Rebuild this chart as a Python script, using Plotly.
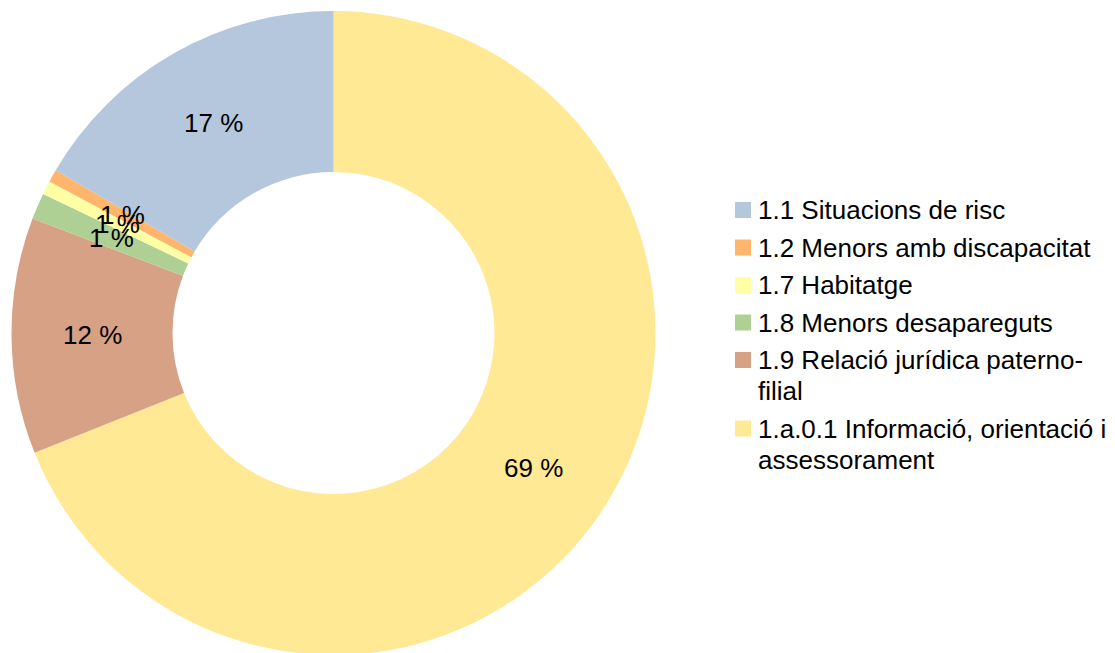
import math
import plotly.graph_objects as go

# ---- data ----
categories = [
    "1.1 Situacions de risc",
    "1.2 Menors amb discapacitat",
    "1.7 Habitatge",
    "1.8 Menors desapareguts",
    "1.9 Relació jurídica paterno-filial",
    "1.a.0.1 Informació, orientació i assessorament",
]
legend_lines = [
    ["1.1 Situacions de risc"],
    ["1.2 Menors amb discapacitat"],
    ["1.7 Habitatge"],
    ["1.8 Menors desapareguts"],
    ["1.9 Relació jurídica paterno-", "filial"],
    ["1.a.0.1 Informació, orientació i", "assessorament"],
]
values = [16.56, 0.65, 0.68, 1.33, 11.85, 68.93]
colors = ["#b4c7dc", "#ffb66c", "#ffffa6", "#afd095", "#d6a185", "#ffe994"]

# ---- layout geometry (screen pixels, page has an 8px body margin) ----
W, H = 1115, 653
OFF = 8
radius = 322.0
cx_s, cy_s = 333.5, 333.0          # centre on screen
cx, cy = cx_s - OFF, cy_s - OFF     # centre in figure pixels
hole = 0.5
FONT = "Liberation Sans, Arial, sans-serif"
FS = 26

# slices run counter-clockwise from 12 o'clock in the reference; drawing the
# reversed series clockwise from 12 o'clock gives the same arrangement
fig = go.Figure()
fig.add_trace(go.Pie(
    labels=categories[::-1],
    values=values[::-1],
    sort=False,
    direction="clockwise",
    rotation=0,
    hole=hole,
    marker=dict(colors=colors[::-1], line=dict(width=0)),
    textinfo="none",
    hoverinfo="label+percent",
    showlegend=False,
    domain=dict(x=[(cx - radius) / W, (cx + radius) / W],
                y=[1 - (cy + radius) / H, 1 - (cy - radius) / H]),
))

annotations = []
shapes = []
total = sum(values)
cum = 0.0
r_lab = radius * (1 + hole) / 2.0
for v in values:
    theta = 2 * math.pi * (cum + v / 2.0) / total
    px = cx - r_lab * math.sin(theta)
    py = cy - r_lab * math.cos(theta)
    annotations.append(dict(
        x=px / W, y=1 - py / H, xref="paper", yref="paper",
        text=f"{round(v / total * 100)} %", showarrow=False,
        xanchor="center", yanchor="middle",
        font=dict(family=FONT, size=FS, color="black"),
    ))
    cum += v

# manual legend
sq_x, sq = 735 - OFF, 16
txt_x = 756 - OFF
y0 = 210 - OFF
item_gap = 37.5
line_gap = 31
y = y0
for lines, col in zip(legend_lines, colors):
    shapes.append(dict(
        type="rect", xref="paper", yref="paper",
        x0=sq_x / W, x1=(sq_x + sq) / W,
        y0=1 - (y - sq / 2) / H, y1=1 - (y + sq / 2) / H,
        fillcolor=col, line=dict(width=0),
    ))
    for j, ln in enumerate(lines):
        annotations.append(dict(
            x=txt_x / W, y=1 - (y + j * line_gap) / H, xref="paper", yref="paper",
            text=ln, showarrow=False, xanchor="left", yanchor="middle",
            font=dict(family=FONT, size=FS, color="black"),
        ))
    y += item_gap + (len(lines) - 1) * line_gap

fig.update_layout(
    width=W, height=H,
    margin=dict(l=0, r=0, t=0, b=0),
    paper_bgcolor="white",
    plot_bgcolor="white",
    annotations=annotations,
    shapes=shapes,
    showlegend=False,
)
fig.write_html("out.html")
